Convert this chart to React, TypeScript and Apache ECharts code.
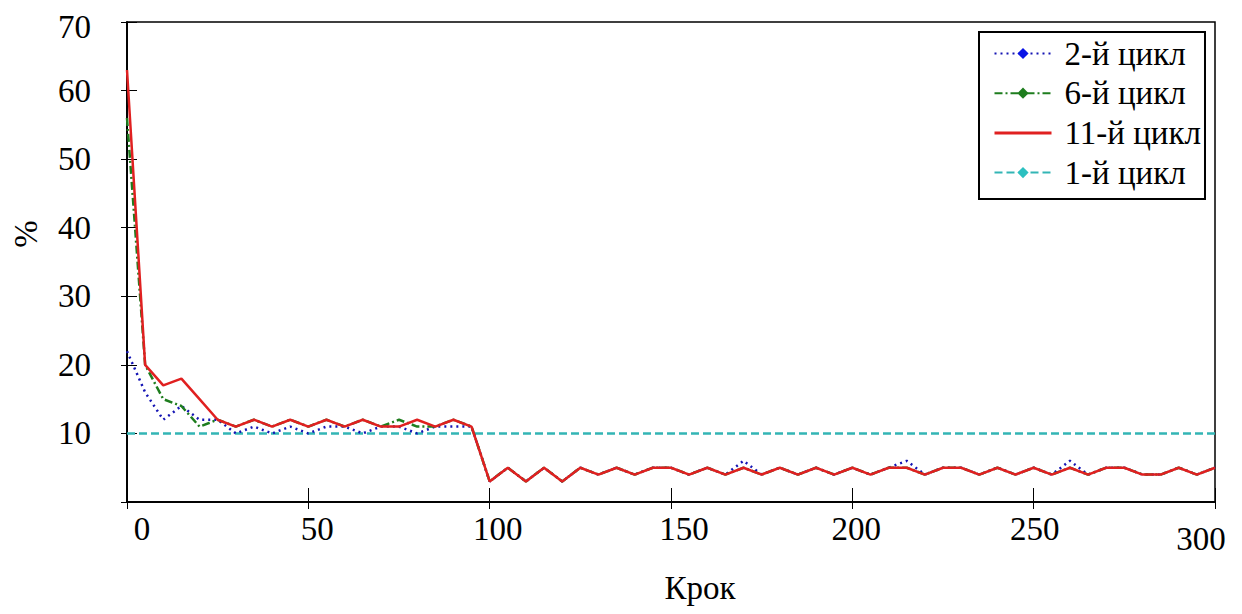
import React, { useEffect, useRef } from 'react';
import * as echarts from 'echarts';

const steps = [
  0, 5, 10, 15, 20, 25, 30, 35, 40, 45, 50, 55, 60, 65, 70, 75, 80, 85, 90, 95,
  100, 105, 110, 115, 120, 125, 130, 135, 140, 145, 150, 155, 160, 165, 170, 175, 180, 185, 190, 195,
  200, 205, 210, 215, 220, 225, 230, 235, 240, 245, 250, 255, 260, 265, 270, 275, 280, 285, 290, 295, 300,
];

const cycle2 = [
  22, 16, 12, 14, 12, 12, 10, 11, 10, 11, 10, 11, 11, 10, 11, 11, 10, 11, 11, 11,
  3, 5, 3, 5, 3, 5, 4, 5, 4, 5, 5, 4, 5, 4, 6, 4, 5, 4, 5, 4,
  5, 4, 5, 6, 4, 5, 5, 4, 5, 4, 5, 4, 6, 4, 5, 5, 4, 4, 5, 4, 5,
];

const cycle6 = [
  56, 20, 15, 14, 11, 12, 11, 12, 11, 12, 11, 12, 11, 12, 11, 12, 11, 11, 12, 11,
  3, 5, 3, 5, 3, 5, 4, 5, 4, 5, 5, 4, 5, 4, 5, 4, 5, 4, 5, 4,
  5, 4, 5, 5, 4, 5, 5, 4, 5, 4, 5, 4, 5, 4, 5, 5, 4, 4, 5, 4, 5,
];

const cycle11 = [
  63, 20, 17, 18, 15, 12, 11, 12, 11, 12, 11, 12, 11, 12, 11, 11, 12, 11, 12, 11,
  3, 5, 3, 5, 3, 5, 4, 5, 4, 5, 5, 4, 5, 4, 5, 4, 5, 4, 5, 4,
  5, 4, 5, 5, 4, 5, 5, 4, 5, 4, 5, 4, 5, 4, 5, 5, 4, 4, 5, 4, 5,
];

const cycle1Steps = [0, 300];
const cycle1 = [10, 10];

const seriesNames = ['2-й цикл', '6-й цикл', '11-й цикл', '1-й цикл'];
const xAxisName = 'Крок';
const yAxisName = '%';

const FONT = "'Liberation Serif', 'Times New Roman', serif";

// horizontal nudges of the x tick labels, as in the reference
const xLabelShift: Record<number, [number, number]> = {
  0: [15, 0],
  50: [9, 0],
  100: [8, 0],
  150: [13, 0],
  200: [4, 0],
  250: [1, 0],
  300: [-14, 5],
};

const pairs = (xs: number[], ys: number[]) => xs.map((x, i) => [x, ys[i]]);

export default function App() {
  const ref = useRef<HTMLDivElement>(null);

  useEffect(() => {
    document.body.style.margin = '0';
    const chart = echarts.init(ref.current!, null, { renderer: 'svg' });
    const axisLine = { show: true, lineStyle: { color: '#000', width: 1.5 } };
    const baseText = { fontFamily: FONT, fontSize: 33, color: '#000' };
    const xRich: Record<string, any> = {};
    Object.keys(xLabelShift).forEach((k) => {
      const [dx, dy] = xLabelShift[Number(k)];
      xRich['v' + k] = {
        ...baseText,
        padding: [dy * 2, dx < 0 ? -dx * 2 : 0, 0, dx > 0 ? dx * 2 : 0],
      };
    });
    chart.setOption({
      animation: false,
      backgroundColor: '#fff',
      grid: {
        left: 127,
        right: 27,
        top: 22,
        bottom: 112,
        show: true,
        borderColor: '#000',
        borderWidth: 1.5,
        backgroundColor: 'transparent',
      },
      xAxis: [
        {
          type: 'value',
          min: 0,
          max: 300,
          interval: 50,
          position: 'bottom',
          axisLine,
          axisTick: { inside: true, length: 14, lineStyle: { color: '#000', width: 1 } },
          splitLine: { show: false },
          axisLabel: {
            ...baseText,
            margin: 10,
            formatter: (v: number) => (xLabelShift[v] ? `{v${v}|${v}}` : String(v)),
            rich: xRich,
          },
        },
        {
          type: 'value',
          min: 0,
          max: 300,
          interval: 50,
          position: 'top',
          axisLine,
          axisTick: { inside: true, length: 7, lineStyle: { color: '#000', width: 1 } },
          axisLabel: { show: false },
          splitLine: { show: false },
        },
      ],
      yAxis: [
        {
          type: 'value',
          min: 0,
          max: 70,
          interval: 10,
          position: 'left',
          axisLine,
          axisTick: { inside: true, length: 10, lineStyle: { color: '#000', width: 1 } },
          splitLine: { show: false },
          axisLabel: {
            ...baseText,
            margin: 36,
            formatter: (v: number) => (v === 0 ? '' : v === 70 ? '{t|70}' : String(v)),
            rich: {
              t: { ...baseText, padding: [10, 0, 0, 0] },
            },
          },
        },
        {
          type: 'value',
          min: 0,
          max: 70,
          interval: 10,
          position: 'right',
          axisLine,
          axisTick: { inside: true, length: 6, lineStyle: { color: '#000', width: 1 } },
          axisLabel: { show: false },
          splitLine: { show: false },
        },
      ],
      legend: {
        data: [
          { name: seriesNames[0] },
          { name: seriesNames[1] },
          { name: seriesNames[2], itemStyle: { opacity: 0 }, lineStyle: { width: 3 } },
          { name: seriesNames[3] },
        ],
        orient: 'vertical',
        left: 979,
        top: 32,
        backgroundColor: '#fff',
        borderColor: '#000',
        borderWidth: 2,
        borderRadius: 0,
        padding: [5, 4, 10, 14],
        itemGap: 6.7,
        itemWidth: 57,
        itemHeight: 14,
        textStyle: {
          color: '#000',
          fontFamily: FONT,
          fontSize: 33,
          lineHeight: 31,
          padding: [0, 0, 0, 8],
        },
      },
      graphic: [
        {
          type: 'text',
          x: 26,
          y: 234,
          rotation: Math.PI / 2,
          style: {
            text: yAxisName,
            fontFamily: FONT,
            fontSize: 33,
            fill: '#000',
            textAlign: 'center',
            textVerticalAlign: 'middle',
          },
        },
        {
          type: 'text',
          x: 700,
          y: 588,
          style: {
            text: xAxisName,
            fontFamily: FONT,
            fontSize: 33,
            fill: '#000',
            textAlign: 'center',
            textVerticalAlign: 'middle',
          },
        },
      ],
      series: [
        {
          name: seriesNames[3],
          type: 'line',
          data: pairs(cycle1Steps, cycle1),
          symbol: 'diamond',
          showSymbol: false,
          color: '#33b5b5',
          lineStyle: { color: '#33b5b5', width: 2.5, type: [8, 4] },
          itemStyle: { color: '#2cc0c0' },
        },
        {
          name: seriesNames[0],
          type: 'line',
          data: pairs(steps, cycle2),
          symbol: 'diamond',
          showSymbol: false,
          color: '#1414b4',
          lineStyle: { color: '#1414b4', width: 2.5, type: [2, 4] },
          itemStyle: { color: '#0a14e6' },
        },
        {
          name: seriesNames[1],
          type: 'line',
          data: pairs(steps, cycle6),
          symbol: 'diamond',
          showSymbol: false,
          color: '#1e7d1e',
          lineStyle: { color: '#1e7d1e', width: 2.5, type: [8, 3, 2, 3] },
          itemStyle: { color: '#1e7d1e' },
        },
        {
          name: seriesNames[2],
          type: 'line',
          data: pairs(steps, cycle11),
          symbol: 'none',
          color: '#e02020',
          lineStyle: { color: '#e02020', width: 2.5 },
          itemStyle: { color: '#e02020' },
        },
      ],
    });
    return () => chart.dispose();
  }, []);

  return <div ref={ref} style={{ width: 1242, height: 614 }} />;
}
